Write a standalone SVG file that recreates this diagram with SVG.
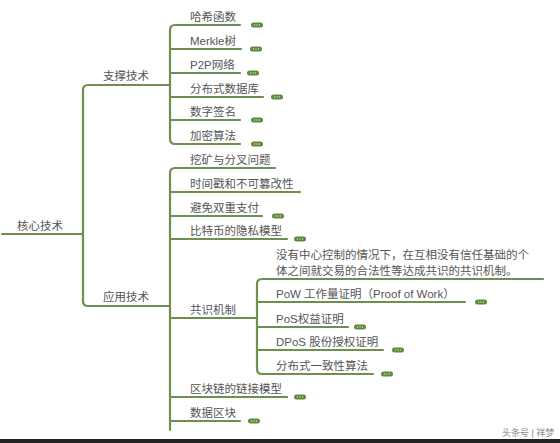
<svg xmlns="http://www.w3.org/2000/svg" width="560" height="443" viewBox="0 0 560 443">
<defs>
<style>
.t{font-family:"Liberation Sans","Noto Sans CJK SC",sans-serif;font-size:11.5px;fill:#555}
.l{fill:none;stroke:#6e8f4f;stroke-width:2.2;stroke-linecap:round;stroke-linejoin:round}
.wm{font-family:"Liberation Sans","Noto Sans CJK SC",sans-serif;font-size:9px;fill:#8a8a8a}
</style>
<g id="pill">
<rect x="-6" y="-2.5" width="12" height="5" rx="2.5" fill="#5e8a3d"/>
<circle cx="-2.5" cy="0" r="0.7" fill="#cfe0c0"/>
<circle cx="0" cy="0" r="0.7" fill="#cfe0c0"/>
<circle cx="2.5" cy="0" r="0.7" fill="#cfe0c0"/>
</g>
</defs>
<rect width="560" height="443" fill="#fff"/>
<g id="connectors">
<path class="l" d="M2,234 H83"/>
<path class="l" d="M170,85 H88 Q83,85 83,90 V301 Q83,306 88,306 H170"/>
<path class="l" d="M240,25 H175 Q170,25 170,30 V139 Q170,144 175,144 H240"/>
<path class="l" d="M170,49 H241 M170,73 H240 M170,97 H263 M170,120 H240"/>
<path class="l" d="M275,168 H175 Q170,168 170,173 V430"/>
<path class="l" d="M170,192 H300 M170,216 H262 M170,239 H287 M170,318 H257 M170,397 H287 M170,421 H240"/>
<path class="l" d="M543,279 H262 Q257,279 257,284 V369 Q257,374 262,374 H373"/>
<path class="l" d="M257,302 H465 M257,327 H348 M257,350 H383"/>
</g>
<g id="n-root"><text class="t" x="17" y="230">核心技术</text></g>
<g id="n-support"><text class="t" x="103" y="80">支撑技术</text></g>
<g id="n-app"><text class="t" x="103" y="301">应用技术</text></g>
<g id="n-hash"><text class="t" x="190" y="21">哈希函数</text><use href="#pill" x="257" y="25"/></g>
<g id="n-merkle"><text class="t" x="190" y="45">Merkle树</text><use href="#pill" x="256" y="49"/></g>
<g id="n-p2p"><text class="t" x="190" y="69">P2P网络</text><use href="#pill" x="253" y="73"/></g>
<g id="n-db"><text class="t" x="190" y="93">分布式数据库</text><use href="#pill" x="277" y="97"/></g>
<g id="n-sign"><text class="t" x="190" y="116">数字签名</text><use href="#pill" x="257" y="120"/></g>
<g id="n-crypto"><text class="t" x="190" y="140">加密算法</text><use href="#pill" x="257" y="144"/></g>
<g id="n-mining"><text class="t" x="190" y="164">挖矿与分叉问题</text></g>
<g id="n-time"><text class="t" x="190" y="188">时间戳和不可篡改性</text></g>
<g id="n-double"><text class="t" x="190" y="212">避免双重支付</text><use href="#pill" x="278" y="216"/></g>
<g id="n-privacy"><text class="t" x="190" y="235">比特币的隐私模型</text><use href="#pill" x="300" y="239"/></g>
<g id="n-consensus"><text class="t" x="190" y="314">共识机制</text></g>
<g id="n-desc"><text class="t" x="276" y="259">没有中心控制的情况下，在互相没有信任基础的个</text><text class="t" x="276" y="275">体之间就交易的合法性等达成共识的共识机制。</text></g>
<g id="n-pow"><text class="t" x="276" y="298">PoW 工作量证明（Proof of Work）</text><use href="#pill" x="481" y="302"/></g>
<g id="n-pos"><text class="t" x="276" y="323">PoS权益证明</text><use href="#pill" x="360" y="327"/></g>
<g id="n-dpos"><text class="t" x="276" y="346">DPoS 股份授权证明</text><use href="#pill" x="398" y="350"/></g>
<g id="n-dist"><text class="t" x="276" y="370">分布式一致性算法</text><use href="#pill" x="387" y="374"/></g>
<g id="n-link"><text class="t" x="190" y="393">区块链的链接模型</text><use href="#pill" x="300" y="397"/></g>
<g id="n-block"><text class="t" x="190" y="417">数据区块</text><use href="#pill" x="254" y="421"/></g>
<text class="wm" x="502" y="436">头条号 | 祥梦</text>
<rect x="0" y="439" width="560" height="4" fill="#222"/>
</svg>
